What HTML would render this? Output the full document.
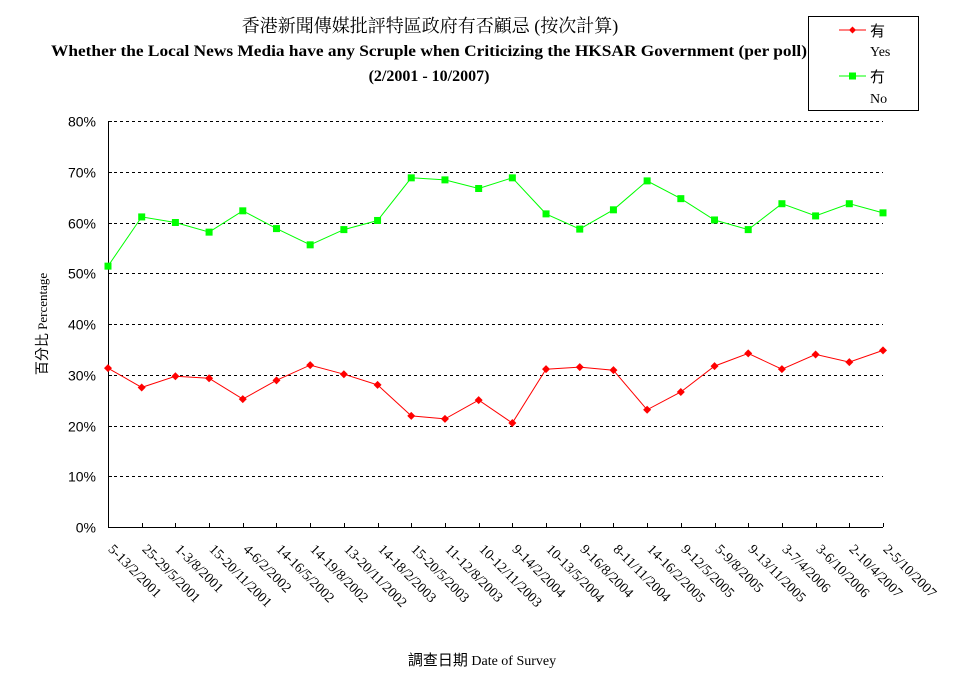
<!DOCTYPE html>
<html><head><meta charset="utf-8"><style>
html,body{margin:0;padding:0;background:#fff;}
svg{display:block;font-family:"Liberation Serif","Noto Serif CJK SC","Noto Sans CJK TC",serif;}
</style></head><body>
<svg id="chart" width="974" height="680" viewBox="0 0 974 680" xmlns="http://www.w3.org/2000/svg">
<g text-anchor="middle" fill="#000">
<text x="430" y="32" font-size="18" font-family="'Liberation Serif','Noto Serif CJK SC',serif">香港新聞傳媒批評特區政府有否顧忌 (按次計算)</text>
<text x="429" y="56" font-size="16" font-weight="bold" textLength="756" lengthAdjust="spacingAndGlyphs">Whether the Local News Media have any Scruple when Criticizing the HKSAR Government (per poll)</text>
<text x="429" y="81" font-size="16" font-weight="bold">(2/2001 - 10/2007)</text>
</g>
<g id="grid"></g>
<g id="axes"></g>
<g id="series"></g>
<text transform="translate(47,324) rotate(-90)" text-anchor="middle" font-size="13"><tspan font-family="'Noto Sans CJK TC',sans-serif" font-size="14">百分比</tspan> Percentage</text>
<text x="482" y="665" text-anchor="middle" font-size="14"><tspan font-family="'Noto Sans CJK TC',sans-serif" font-size="15">調查日期</tspan> Date of Survey</text>
<g>
<rect x="808.5" y="16.5" width="110" height="94" fill="#fff" stroke="#000"/>
<line x1="839" y1="30" x2="866" y2="30" stroke="#ff0000"/>
<path d="M852.5 26.5 L856 30 L852.5 33.5 L849 30 Z" fill="#ff0000"/>
<text x="870" y="36" font-size="15" font-family="'Noto Sans CJK TC',sans-serif">有</text>
<text x="870" y="56" font-size="14">Yes</text>
<line x1="839" y1="76" x2="866" y2="76" stroke="#00ff00"/>
<rect x="849" y="72.5" width="7" height="7" fill="#00ff00"/>
<text x="870" y="82" font-size="15" font-family="'Noto Sans CJK TC',sans-serif">冇</text>
<text x="870" y="103" font-size="14">No</text>
</g>
</svg>
<script>
const categories = ["5-13/2/2001","25-29/5/2001","1-3/8/2001","15-20/11/2001","4-6/2/2002","14-16/5/2002","14-19/8/2002","13-20/11/2002","14-18/2/2003","15-20/5/2003","11-12/8/2003","10-12/11/2003","9-14/2/2004","10-13/5/2004","9-16/8/2004","8-11/11/2004","14-16/2/2005","9-12/5/2005","5-9/8/2005","9-13/11/2005","3-7/4/2006","3-6/10/2006","2-10/4/2007","2-5/10/2007"];
const yesValues = [31.3,27.5,29.7,29.3,25.2,28.9,31.9,30.1,28.0,21.9,21.3,25.0,20.5,31.1,31.5,30.9,23.1,26.6,31.7,34.2,31.1,34.0,32.5,34.8];
const noValues = [51.4,61.1,60.0,58.1,62.3,58.8,55.6,58.6,60.4,68.8,68.4,66.7,68.8,61.7,58.7,62.5,68.2,64.7,60.5,58.6,63.7,61.3,63.7,61.9];
const yTicks = [0,10,20,30,40,50,60,70,80];
const yTickLabels = ["0%","10%","20%","30%","40%","50%","60%","70%","80%"];

const NS="http://www.w3.org/2000/svg";
const X0=108, X1=883, Y0=527, Y1=121, YMAX=80;
function xPos(i){return X0+(X1-X0)*i/(categories.length-1);}
function yPos(v){return Y0-(Y0-Y1)*v/YMAX;}
function mk(tag,attrs,parent){const e=document.createElementNS(NS,tag);for(const k in attrs)e.setAttribute(k,attrs[k]);parent.appendChild(e);return e;}
const grid=document.getElementById('grid'), axes=document.getElementById('axes'), series=document.getElementById('series');

yTicks.forEach((t,i)=>{
  const y=Math.round(yPos(t))+0.5;
  if(t>0){
    const g=mk('line',{x1:X0,y1:y,x2:X1,y2:y,stroke:'#000','stroke-dasharray':'3,3'},grid);
    
    
  }
  const tk=mk('line',{x1:X0,y1:y,x2:X0+4,y2:y,stroke:'#000'},axes);
  
  
  const lb=mk('text',{x:96,y:y+5,'text-anchor':'end','font-size':'14','font-family':"'Liberation Sans',sans-serif"},axes);
  lb.textContent=yTickLabels[i];
  
  
});
const ya=mk('line',{x1:X0+0.5,y1:Y1,x2:X0+0.5,y2:Y0+1,stroke:'#000'},axes);


const xa=mk('line',{x1:X0,y1:Y0+0.5,x2:X1,y2:Y0+0.5,stroke:'#000'},axes);


categories.forEach((c,i)=>{
  const x=Math.round(xPos(i))+0.5;
  const tk=mk('line',{x1:x,y1:Y0,x2:x,y2:Y0-4,stroke:'#000'},axes);
  
  
  const lb=mk('text',{transform:`translate(${x-1},${550}) rotate(45)`,'font-size':'14'},axes);
  lb.textContent=c;
  
  
});

function drawSeries(vals,color,marker,name){
  const pts=vals.map((v,i)=>xPos(i).toFixed(1)+','+yPos(v).toFixed(1)).join(' ');
  const pl=mk('polyline',{points:pts,fill:'none',stroke:color,'stroke-width':'1'},series);
  
  
  vals.forEach((v,i)=>{
    const x=xPos(i), y=yPos(v);
    let m;
    if(marker==='diamond') m=mk('path',{d:`M${x} ${y-4}L${x+4} ${y}L${x} ${y+4}L${x-4} ${y}Z`,fill:color},series);
    else m=mk('rect',{x:x-3.5,y:y-3.5,width:7,height:7,fill:color},series);
    
    
  });
}
drawSeries(noValues,'#00ff00','square','no-series');
drawSeries(yesValues,'#ff0000','diamond','yes-series');
</script>
</body></html>
